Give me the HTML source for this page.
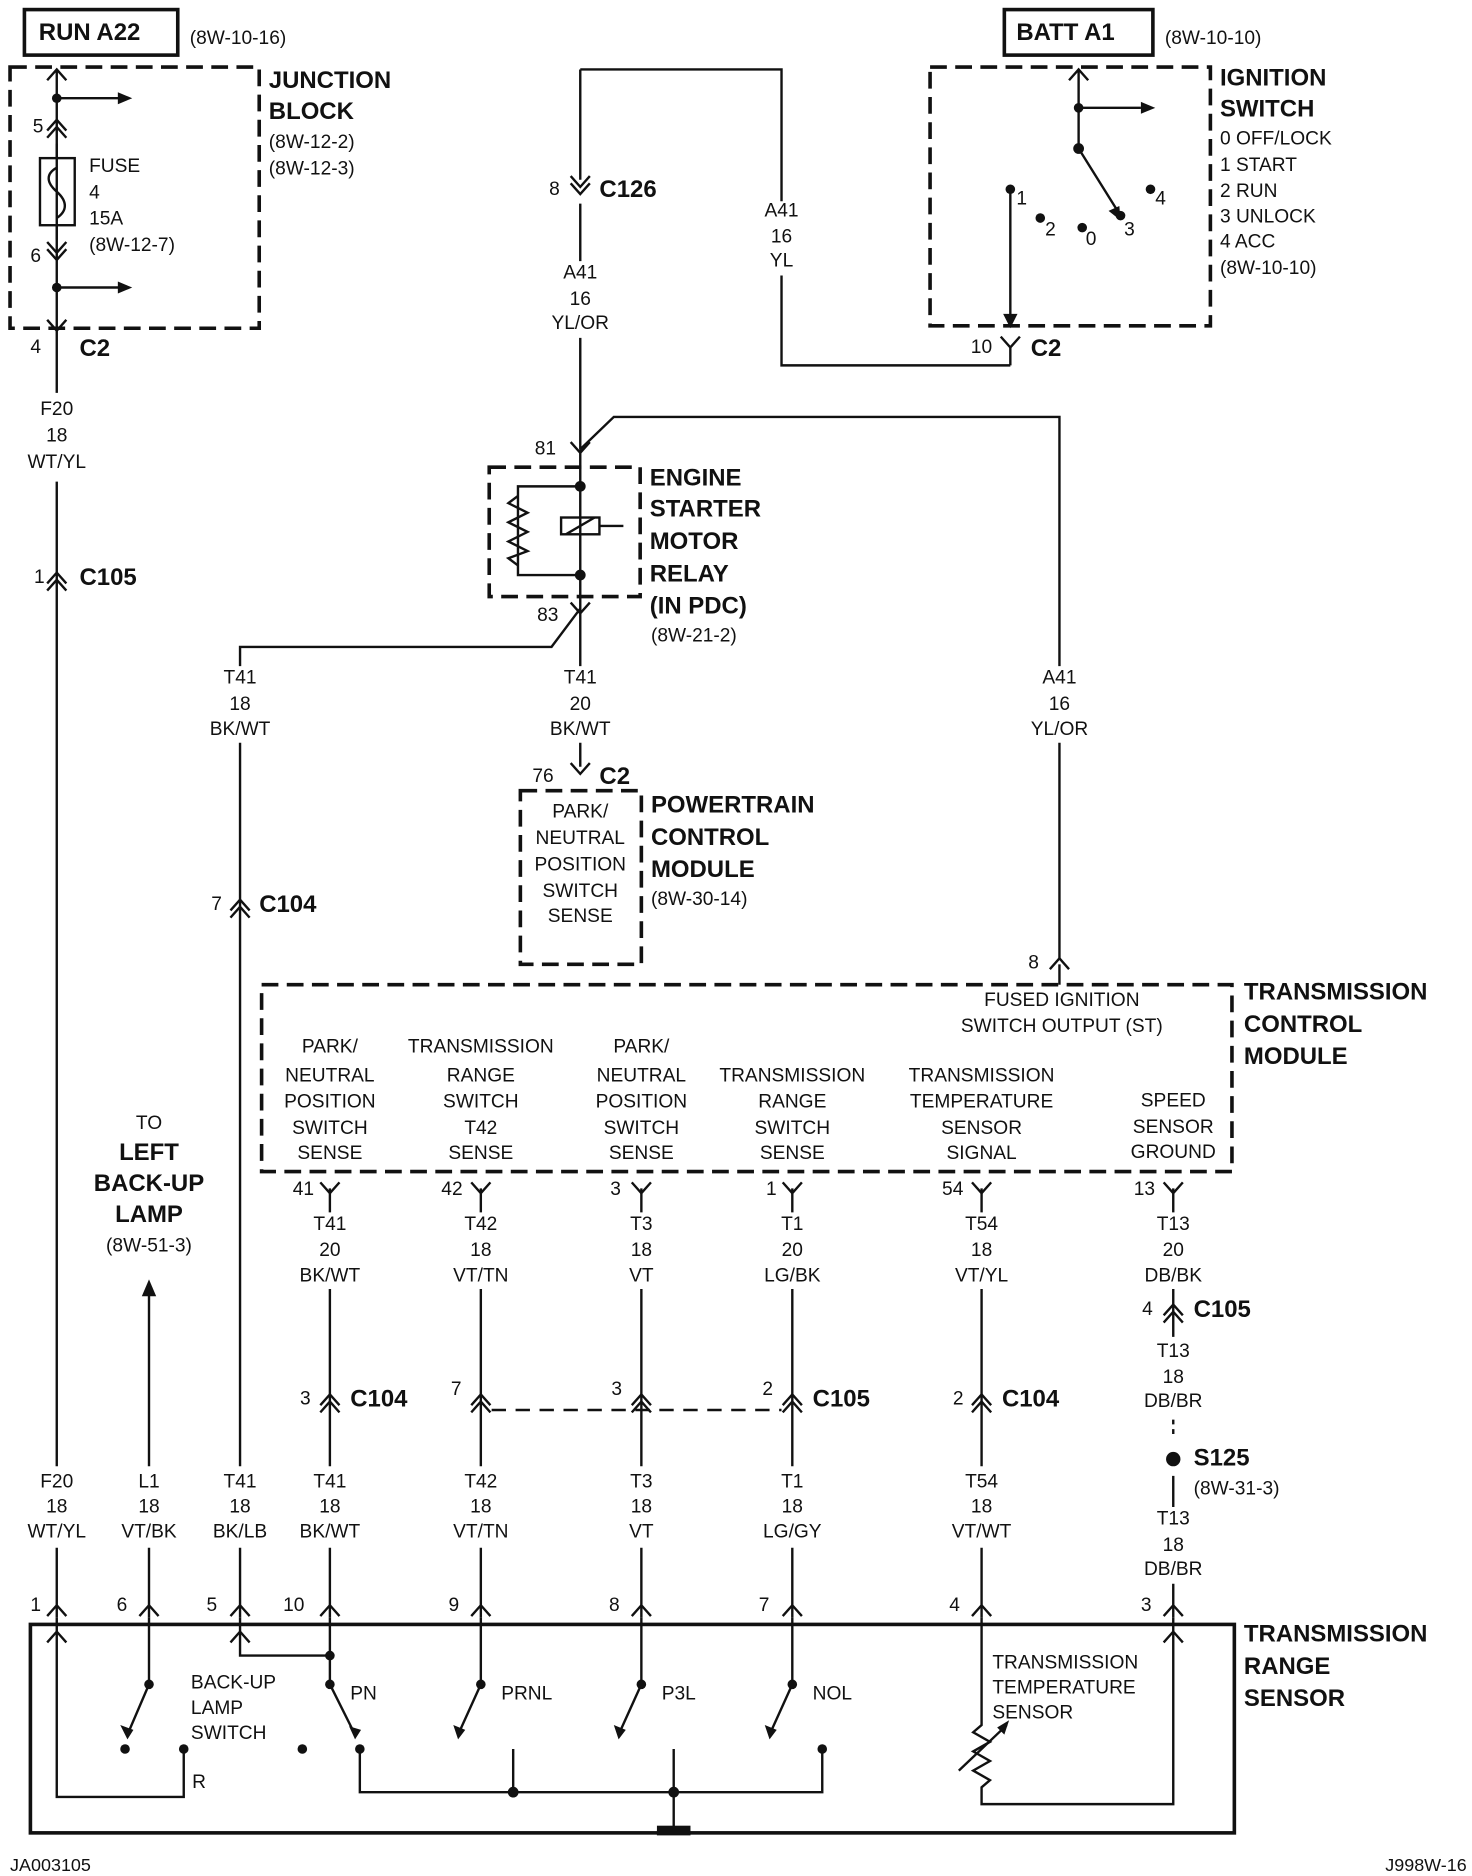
<!DOCTYPE html>
<html><head><meta charset="utf-8"><style>
html,body{margin:0;padding:0;background:#fff}
svg{display:block}
text{font-family:"Liberation Sans Narrow","Liberation Sans",sans-serif;font-size:16px;fill:#111;dominant-baseline:central}
.b{font-family:"Liberation Sans",sans-serif;font-weight:bold;font-size:20px}
.m{text-anchor:middle}
.e{text-anchor:end}
</style></head><body>
<svg width="1472" height="1876" viewBox="0 0 1228 1566" xmlns="http://www.w3.org/2000/svg">
<defs>
<path id="v" d="M-8,-9 L0,0 L8,-9" fill="none" stroke="#111" stroke-width="2"/>
<path id="u" d="M-8,9 L0,0 L8,9" fill="none" stroke="#111" stroke-width="2"/>
<g id="uu"><path d="M-8,5 L0,-4 L8,5 M-8,11 L0,2 L8,11" fill="none" stroke="#111" stroke-width="2"/></g>
<g id="vv"><path d="M-8,-5 L0,4 L8,-5 M-8,-11 L0,-2 L8,-11" fill="none" stroke="#111" stroke-width="2"/></g>
<path id="ah" d="M0,0 L-12,-5 L-12,5 Z" fill="#111"/>
</defs>
<g stroke="#111" stroke-width="2" fill="none">
<rect x="20" y="8" width="128" height="38" stroke-width="3"/>
<rect x="838" y="8" width="124" height="38" stroke-width="3"/>
<g stroke-dasharray="14,7" stroke-width="3">
<rect x="8" y="56" width="208" height="218"/>
<rect x="776" y="56" width="234" height="216"/>
<rect x="408" y="390" width="126" height="108"/>
<rect x="434" y="660" width="101" height="145"/>
<rect x="218" y="822" width="810" height="156"/>
</g>
<rect x="25" y="1356" width="1005" height="174" stroke-width="3"/>
<path d="M47,58 V328 M47,402 V1224 M47,1292 V1350"/>
<path d="M47,82 H100 M47,240 H100"/>
<rect x="33" y="132" width="29" height="56"/>
<path d="M47,120 V132 M47,188 V200"/>
<path d="M47,140 C38,145 38,152 47,160 C56,168 56,176 47,182" />
<path d="M484,58 H652 V168 M652,230 V305 H843 M484,58 V150 M484,170 V218 M484,282 V375"/>
<path d="M484,375 L512,348 H884 V556 M884,620 V800"/>
<path d="M484,375 V510 M484,406 H432 V480 H484"/>
<path d="M432,414 L424,420 L440,428 L424,436 L440,444 L424,452 L440,460 L424,466 L432,472"/>
<rect x="468" y="432" width="32" height="14"/>
<path d="M472,446 L496,432 M500,439 H520"/>
<path d="M484,508 L460,540 H200 V556 M200,620 V1224 M200,1292 V1350 M484,508 V556 M484,620 V640"/>
<path d="M900,58 V124 M900,90 H952 M900,124 L935,180 M843,158 V272"/>
<path d="M843,290 V305"/>
<path d="M884,805 V822"/>
<path d="M275,992 V1012 M275,1076 V1224 M275,1292 V1350 M401,992 V1012 M401,1076 V1224 M401,1292 V1350 M535,992 V1012 M535,1076 V1224 M535,1292 V1350 M661,992 V1012 M661,1076 V1224 M661,1292 V1350 M819,992 V1012 M819,1076 V1224 M819,1292 V1350 M979,992 V1012 M979,1076 V1116 M979,1322 V1350 M979,1232 V1258"/>
<path d="M979,1185 V1200" stroke-dasharray="4,4"/>
<path d="M410,1177 H652" stroke-dasharray="12,8"/>
<path d="M124,1080 V1224 M124,1292 V1350"/>
<path d="M47,1350 V1500 H153 V1460"/>
<path d="M124,1350 V1406 L106,1448"/>
<path d="M200,1350 V1382 H275 M275,1350 V1406 L296,1448"/>
<path d="M401,1350 V1406 L382,1448 M535,1350 V1406 L516,1448 M661,1350 V1406 L642,1448"/>
<path d="M300,1460 V1496 H686 V1460 M428,1460 V1496 M562,1460 V1530"/>
<path d="M548,1530 H576" stroke-width="4"/>
<path d="M819,1350 V1440 L812,1446 L826,1454 L812,1462 L826,1470 L812,1478 L826,1486 L819,1492 V1506 H979 V1350"/>
<path d="M800,1478 L840,1440"/>
</g>
<g fill="#111">
<circle cx="47" cy="82" r="4"/><circle cx="47" cy="240" r="4"/>
<use href="#ah" x="110" y="82"/><use href="#ah" x="110" y="240"/>
<use href="#ah" x="964" y="90"/>
<circle cx="484" cy="406" r="4.5"/><circle cx="484" cy="480" r="4.5"/>
<circle cx="900" cy="90" r="4"/><circle cx="900" cy="124" r="4.5"/>
<circle cx="843" cy="158" r="4"/><circle cx="868" cy="182" r="4"/><circle cx="903" cy="190" r="4"/><circle cx="935" cy="180" r="4"/><circle cx="960" cy="158" r="4"/>
<circle cx="979" cy="1218" r="6"/>
<path d="M124,1068 L118,1082 L130,1082 Z"/>
<circle cx="124" cy="1406" r="4"/><circle cx="104" cy="1460" r="4"/><circle cx="153" cy="1460" r="4"/>
<circle cx="275" cy="1382" r="4"/><circle cx="275" cy="1406" r="4"/><circle cx="252" cy="1460" r="4"/><circle cx="300" cy="1460" r="4"/>
<circle cx="401" cy="1406" r="4"/><circle cx="535" cy="1406" r="4"/><circle cx="661" cy="1406" r="4"/><circle cx="686" cy="1460" r="4"/>
<circle cx="428" cy="1496" r="4.5"/><circle cx="562" cy="1496" r="4.5"/>
<rect x="548" y="1524" width="28" height="8"/>
<path d="M106,1452 L100,1440 L111,1444Z M296,1452 L291,1441 L301,1444Z M382,1452 L378,1440 L388,1444Z M516,1452 L512,1440 L522,1444Z M642,1452 L638,1440 L648,1444Z M935,184 L925,176 L934,172Z M843,274 L837,262 L849,262Z M842,1436 L838,1448 L832,1442Z"/>
</g>
<use href="#u" x="47" y="58"/><use href="#u" x="900" y="58"/>
<use href="#uu" x="47" y="104"/><use href="#vv" x="47" y="213"/>
<use href="#v" x="47" y="276"/><use href="#v" x="843" y="290"/>
<use href="#uu" x="47" y="482"/><use href="#vv" x="484" y="158"/>
<use href="#v" x="484" y="378"/><use href="#v" x="484" y="512"/><use href="#v" x="484" y="646"/>
<use href="#uu" x="200" y="755"/><use href="#u" x="884" y="800"/>
<use href="#v" x="275" y="996"/><use href="#v" x="401" y="996"/><use href="#v" x="535" y="996"/><use href="#v" x="661" y="996"/><use href="#v" x="819" y="996"/><use href="#v" x="979" y="996"/>
<use href="#uu" x="275" y="1168"/><use href="#uu" x="401" y="1168"/><use href="#uu" x="535" y="1168"/><use href="#uu" x="661" y="1168"/><use href="#uu" x="819" y="1168"/><use href="#uu" x="979" y="1093"/>
<use href="#u" x="47" y="1340"/><use href="#u" x="124" y="1340"/><use href="#u" x="200" y="1340"/><use href="#u" x="275" y="1340"/><use href="#u" x="401" y="1340"/><use href="#u" x="535" y="1340"/><use href="#u" x="661" y="1340"/><use href="#u" x="819" y="1340"/><use href="#u" x="979" y="1340"/>
<use href="#u" x="200" y="1362"/><use href="#u" x="47" y="1362"/><use href="#u" x="979" y="1362"/>
<text class="b" x="32" y="27">RUN A22</text><text x="158" y="32">(8W-10-16)</text>
<text class="b" x="848" y="27">BATT A1</text><text x="972" y="32">(8W-10-10)</text>
<text class="b" x="224" y="67">JUNCTION</text><text class="b" x="224" y="93">BLOCK</text>
<text x="224" y="119">(8W-12-2)</text><text x="224" y="141">(8W-12-3)</text>
<text x="27" y="106">5</text><text x="74" y="139">FUSE</text><text x="74" y="161">4</text><text x="74" y="183">15A</text><text x="74" y="205">(8W-12-7)</text>
<text x="25" y="214">6</text>
<text x="25" y="290">4</text><text class="b" x="66" y="291">C2</text>
<text class="m" x="47" y="342">F20</text><text class="m" x="47" y="364">18</text><text class="m" x="47" y="386">WT/YL</text>
<text x="28" y="482">1</text><text class="b" x="66" y="482">C105</text>
<text x="458" y="158">8</text><text class="b" x="500" y="158">C126</text>
<text class="m" x="484" y="228">A41</text><text class="m" x="484" y="250">16</text><text class="m" x="484" y="270">YL/OR</text>
<text class="m" x="652" y="176">A41</text><text class="m" x="652" y="198">16</text><text class="m" x="652" y="218">YL</text>
<text class="b" x="1018" y="65">IGNITION</text><text class="b" x="1018" y="91">SWITCH</text>
<text x="1018" y="116">0 OFF/LOCK</text><text x="1018" y="138">1 START</text><text x="1018" y="160">2 RUN</text><text x="1018" y="181">3 UNLOCK</text><text x="1018" y="202">4 ACC</text><text x="1018" y="224">(8W-10-10)</text>
<text x="848" y="166">1</text><text x="872" y="192">2</text><text x="906" y="200">0</text><text x="938" y="192">3</text><text x="964" y="166">4</text>
<text x="810" y="290">10</text><text class="b" x="860" y="291">C2</text>
<text x="446" y="375">81</text><text x="448" y="514">83</text>
<text class="b" x="542" y="399">ENGINE</text><text class="b" x="542" y="425">STARTER</text><text class="b" x="542" y="452">MOTOR</text><text class="b" x="542" y="479">RELAY</text><text class="b" x="542" y="506">(IN PDC)</text><text x="543" y="531">(8W-21-2)</text>
<text class="m" x="200" y="566">T41</text><text class="m" x="200" y="588">18</text><text class="m" x="200" y="609">BK/WT</text>
<text class="m" x="484" y="566">T41</text><text class="m" x="484" y="588">20</text><text class="m" x="484" y="609">BK/WT</text>
<text class="m" x="884" y="566">A41</text><text class="m" x="884" y="588">16</text><text class="m" x="884" y="609">YL/OR</text>
<text x="444" y="648">76</text><text class="b" x="500" y="648">C2</text>
<text class="m" x="484" y="678">PARK/</text><text class="m" x="484" y="700">NEUTRAL</text><text class="m" x="484" y="722">POSITION</text><text class="m" x="484" y="744">SWITCH</text><text class="m" x="484" y="765">SENSE</text>
<text class="b" x="543" y="672">POWERTRAIN</text><text class="b" x="543" y="699">CONTROL</text><text class="b" x="543" y="726">MODULE</text><text x="543" y="751">(8W-30-14)</text>
<text x="176" y="755">7</text><text class="b" x="216" y="755">C104</text>
<text x="858" y="804">8</text>
<text class="m" x="886" y="835">FUSED IGNITION</text><text class="m" x="886" y="857">SWITCH OUTPUT (ST)</text>
<text class="b" x="1038" y="828">TRANSMISSION</text><text class="b" x="1038" y="855">CONTROL</text><text class="b" x="1038" y="882">MODULE</text>
<text class="m" x="275" y="874">PARK/</text><text class="m" x="275" y="898">NEUTRAL</text><text class="m" x="275" y="920">POSITION</text><text class="m" x="275" y="942">SWITCH</text><text class="m" x="275" y="963">SENSE</text>
<text class="m" x="401" y="874">TRANSMISSION</text><text class="m" x="401" y="898">RANGE</text><text class="m" x="401" y="920">SWITCH</text><text class="m" x="401" y="942">T42</text><text class="m" x="401" y="963">SENSE</text>
<text class="m" x="535" y="874">PARK/</text><text class="m" x="535" y="898">NEUTRAL</text><text class="m" x="535" y="920">POSITION</text><text class="m" x="535" y="942">SWITCH</text><text class="m" x="535" y="963">SENSE</text>
<text class="m" x="661" y="898">TRANSMISSION</text><text class="m" x="661" y="920">RANGE</text><text class="m" x="661" y="942">SWITCH</text><text class="m" x="661" y="963">SENSE</text>
<text class="m" x="819" y="898">TRANSMISSION</text><text class="m" x="819" y="920">TEMPERATURE</text><text class="m" x="819" y="942">SENSOR</text><text class="m" x="819" y="963">SIGNAL</text>
<text class="m" x="979" y="919">SPEED</text><text class="m" x="979" y="941">SENSOR</text><text class="m" x="979" y="962">GROUND</text>
<text x="244" y="993">41</text><text x="368" y="993">42</text><text x="509" y="993">3</text><text x="639" y="993">1</text><text x="786" y="993">54</text><text x="946" y="993">13</text>
<text class="m" x="275" y="1022">T41</text><text class="m" x="275" y="1044">20</text><text class="m" x="275" y="1065">BK/WT</text>
<text class="m" x="401" y="1022">T42</text><text class="m" x="401" y="1044">18</text><text class="m" x="401" y="1065">VT/TN</text>
<text class="m" x="535" y="1022">T3</text><text class="m" x="535" y="1044">18</text><text class="m" x="535" y="1065">VT</text>
<text class="m" x="661" y="1022">T1</text><text class="m" x="661" y="1044">20</text><text class="m" x="661" y="1065">LG/BK</text>
<text class="m" x="819" y="1022">T54</text><text class="m" x="819" y="1044">18</text><text class="m" x="819" y="1065">VT/YL</text>
<text class="m" x="979" y="1022">T13</text><text class="m" x="979" y="1044">20</text><text class="m" x="979" y="1065">DB/BK</text>
<text x="953" y="1093">4</text><text class="b" x="996" y="1093">C105</text>
<text class="m" x="979" y="1128">T13</text><text class="m" x="979" y="1150">18</text><text class="m" x="979" y="1170">DB/BR</text>
<text class="b" x="996" y="1217">S125</text><text x="996" y="1243">(8W-31-3)</text>
<text class="m" x="979" y="1268">T13</text><text class="m" x="979" y="1290">18</text><text class="m" x="979" y="1310">DB/BR</text>
<text class="m" x="124" y="938">TO</text><text class="b m" x="124" y="962">LEFT</text><text class="b m" x="124" y="988">BACK-UP</text><text class="b m" x="124" y="1014">LAMP</text><text class="m" x="124" y="1040">(8W-51-3)</text>
<text x="250" y="1168">3</text><text class="b" x="292" y="1168">C104</text>
<text x="376" y="1160">7</text><text x="510" y="1160">3</text><text x="636" y="1160">2</text><text class="b" x="678" y="1168">C105</text>
<text x="795" y="1168">2</text><text class="b" x="836" y="1168">C104</text>
<text class="m" x="47" y="1237">F20</text><text class="m" x="47" y="1258">18</text><text class="m" x="47" y="1279">WT/YL</text>
<text class="m" x="124" y="1237">L1</text><text class="m" x="124" y="1258">18</text><text class="m" x="124" y="1279">VT/BK</text>
<text class="m" x="200" y="1237">T41</text><text class="m" x="200" y="1258">18</text><text class="m" x="200" y="1279">BK/LB</text>
<text class="m" x="275" y="1237">T41</text><text class="m" x="275" y="1258">18</text><text class="m" x="275" y="1279">BK/WT</text>
<text class="m" x="401" y="1237">T42</text><text class="m" x="401" y="1258">18</text><text class="m" x="401" y="1279">VT/TN</text>
<text class="m" x="535" y="1237">T3</text><text class="m" x="535" y="1258">18</text><text class="m" x="535" y="1279">VT</text>
<text class="m" x="661" y="1237">T1</text><text class="m" x="661" y="1258">18</text><text class="m" x="661" y="1279">LG/GY</text>
<text class="m" x="819" y="1237">T54</text><text class="m" x="819" y="1258">18</text><text class="m" x="819" y="1279">VT/WT</text>
<text x="25" y="1340">1</text><text x="97" y="1340">6</text><text x="172" y="1340">5</text><text x="236" y="1340">10</text><text x="374" y="1340">9</text><text x="508" y="1340">8</text><text x="633" y="1340">7</text><text x="792" y="1340">4</text><text x="952" y="1340">3</text>
<text class="b" x="1038" y="1364">TRANSMISSION</text><text class="b" x="1038" y="1391">RANGE</text><text class="b" x="1038" y="1418">SENSOR</text>
<text x="159" y="1405">BACK-UP</text><text x="159" y="1426">LAMP</text><text x="159" y="1447">SWITCH</text>
<text x="160" y="1488">R</text>
<text x="292" y="1414">PN</text><text x="418" y="1414">PRNL</text><text x="552" y="1414">P3L</text><text x="678" y="1414">NOL</text>
<text x="828" y="1388">TRANSMISSION</text><text x="828" y="1409">TEMPERATURE</text><text x="828" y="1430">SENSOR</text>
<text x="8" y="1557" style="font-size:15px">JA003105</text><text class="e" x="1224" y="1557" style="font-size:15px">J998W-16</text>
</svg>
</body></html>
